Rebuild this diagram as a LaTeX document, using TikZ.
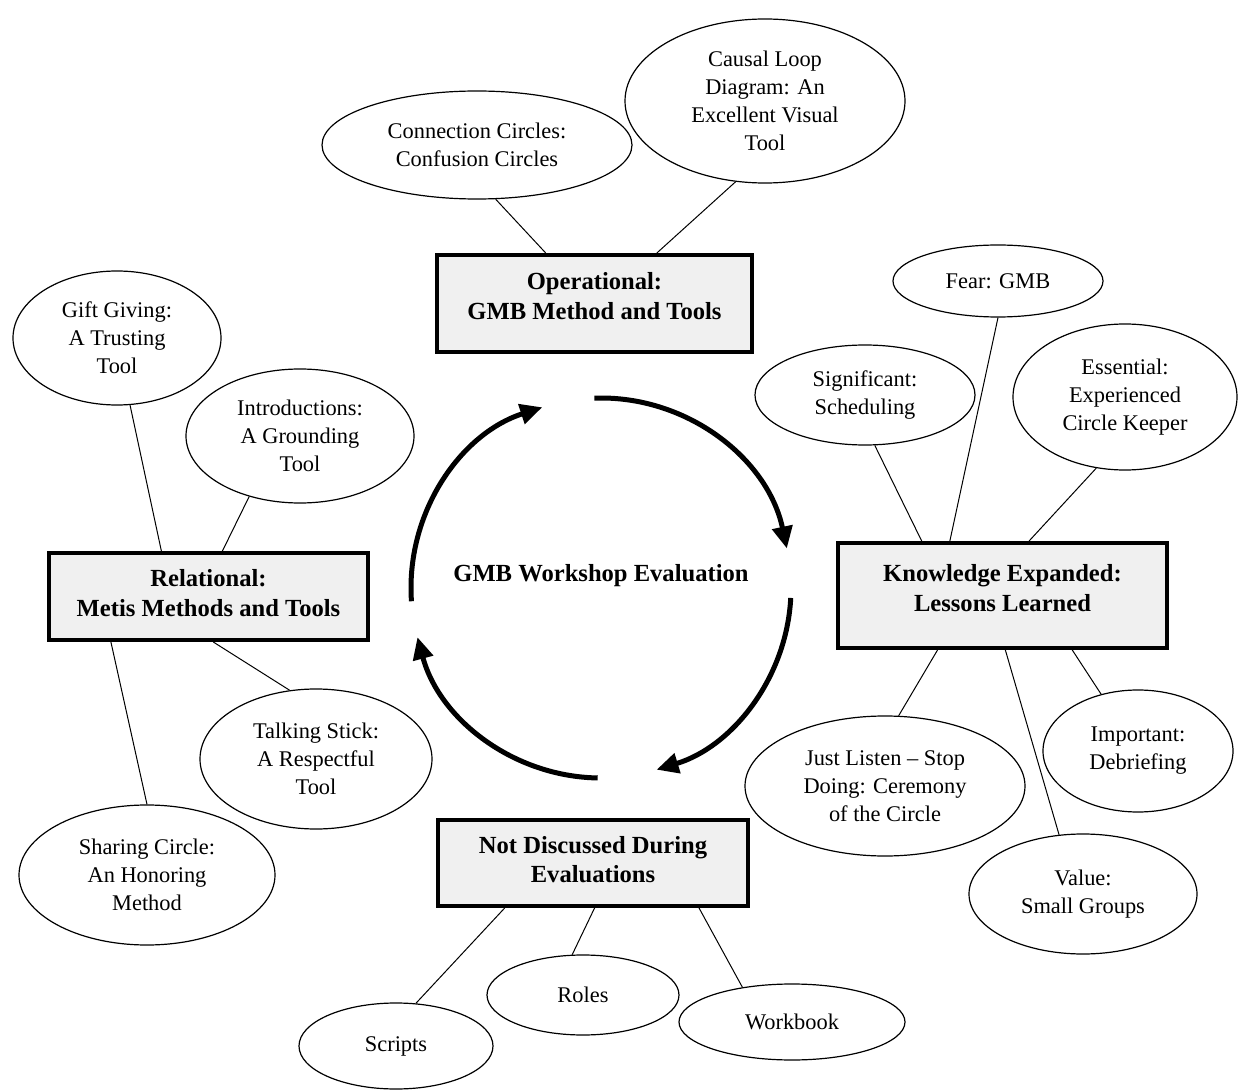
\documentclass[tikz,border=0pt]{standalone}
\usepackage{fontspec}
\setmainfont{Liberation Serif}
\usetikzlibrary{shapes.geometric,arrows.meta}
\definecolor{boxfill}{RGB}{240,240,240}
\begin{document}
\begin{tikzpicture}[x=0.5pt,y=-0.5pt,
  idea/.style 2 args={draw, ellipse, line width=0.6pt, inner sep=0pt, align=center,
    minimum width=#1pt, minimum height=#2pt, font=\fontsize{11.2}{14}\selectfont},
  theme/.style 2 args={draw, line width=2pt, fill=boxfill, inner sep=0pt, align=center,
    minimum width=#1pt, minimum height=#2pt, font=\fontsize{12.3}{14.6}\selectfont\bfseries},
  link/.style={line width=0.5pt},
  loop/.style={line width=2.5pt, -{Triangle[length=11pt,width=10pt]}}]
\useasboundingbox (0,0) rectangle (1238,1091);

% ---- themes ----
\node[theme={157.5}{48.5}] (op)   at (594.5,303.5) {Operational:\\GMB Method and Tools\\[-7pt]};
\node[theme={164.5}{52.5}] (know) at (1002.5,595.5) {Knowledge Expanded:\\Lessons Learned\\[-7pt]};
\node[theme={159.5}{43.5}] (rel)  at (208.5,596.5) {Relational:\\Metis Methods and Tools\\[-11pt]};
\node[theme={155}{43}]     (nd)   at (593,863) {Not Discussed During\\Evaluations\\[-11pt]};

% ---- operational ideas ----
\node[idea={155}{54}] (conn)   at (477,145) {Connection Circles:\\Confusion Circles};
\node[idea={140}{82}] (causal) at (765,101) {Causal Loop\\Diagram: An\\Excellent Visual\\Tool};

% ---- lessons learned ----
\node[idea={105}{36}] (fear)   at (998,281) {Fear: GMB};
\node[idea={110}{50}] (signif) at (865,395) {Significant:\\Scheduling};
\node[idea={112}{73}] (essen)  at (1125,397) {Essential:\\Experienced\\Circle Keeper};
\node[idea={140}{70}] (just)   at (885,786) {Just Listen -- Stop\\Doing: Ceremony\\of the Circle};
\node[idea={95}{61}]  (impt)   at (1138,751) {Important:\\Debriefing};
\node[idea={114}{60}] (value)  at (1083,894) {Value:\\Small Groups};

% ---- relational ideas ----
\node[idea={104}{67}] (gift)  at (117,338) {Gift Giving:\\A Trusting\\Tool};
\node[idea={114}{67}] (intro) at (300,436) {Introductions:\\A Grounding\\Tool};
\node[idea={116}{70}] (talk)  at (316,759) {Talking Stick:\\A Respectful\\Tool};
\node[idea={128}{70}] (share) at (147,875) {Sharing Circle:\\An Honoring\\Method};

% ---- not discussed ----
\node[idea={97}{43}]  (scripts)  at (396,1046) {Scripts};
\node[idea={96}{40}]  (roles)    at (583,995) {Roles};
\node[idea={113}{38}] (workbook) at (792,1022) {Workbook};

% ---- connectors ----
\draw[link] (conn.-71)    -- (op.134);
\draw[link] (causal.-110) -- (op.39);

\draw[link] (signif.-79) -- (know.146.6);
\draw[link] (fear.-90)   -- (know.134);
\draw[link] (essen.-112) -- (know.64);
\draw[link] (just.79)    -- (know.-140);
\draw[link] (value.112.6) -- (know.-87);
\draw[link] (impt.123)   -- (know.-38.7);

\draw[link] (gift.-79)   -- (rel.136);
\draw[link] (intro.-130) -- (rel.73);
\draw[link] (talk.111)   -- (rel.-84);
\draw[link] (share.90)   -- (rel.-155.5);

\draw[link] (scripts.65.7)   -- (nd.-153.4);
\draw[link] (roles.105.7)    -- (nd.-88.7);
\draw[link] (workbook.145.7) -- (nd.-23.5);

% ---- evaluation cycle ----
\node[font=\fontsize{12.3}{14.6}\selectfont\bfseries] (eval) at (601,576) {GMB Workshop Evaluation};
\coordinate (hub) at (601,588);
\begin{scope}[shift={(hub)}, yscale=-1]
  \draw[loop] (184:190) arc[start angle=184, end angle=108, radius=190];
  \draw[loop] (92:190)  arc[start angle=92,  end angle=12,  radius=190];
  \draw[loop] (-3:190)  arc[start angle=-3,  end angle=-73, radius=190];
  \draw[loop] (-91:190) arc[start angle=-91, end angle=-165, radius=190];
\end{scope}
\end{tikzpicture}
\end{document}
